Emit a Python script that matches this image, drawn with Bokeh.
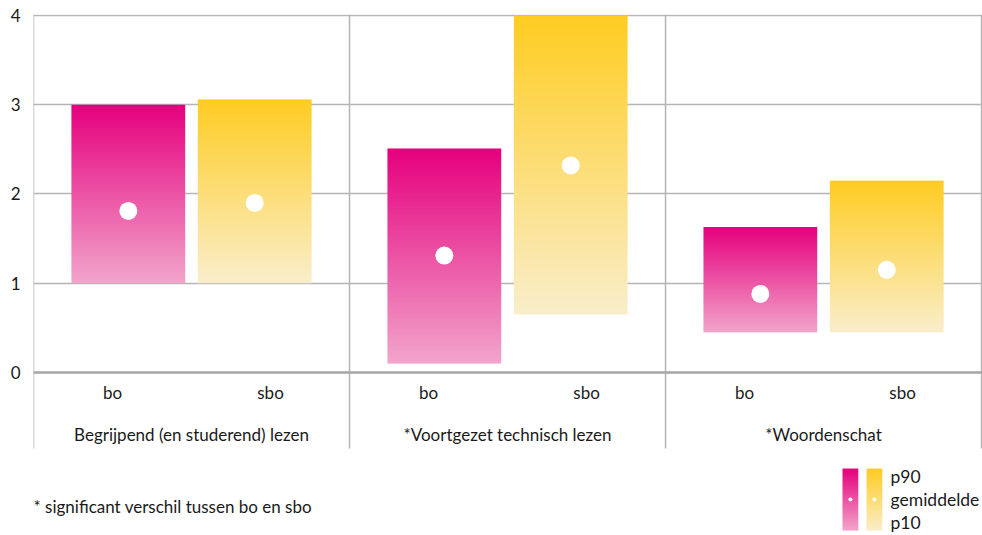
import numpy as np
from bokeh.plotting import figure
from bokeh.models import Span, Range1d
from bokeh.core.properties import value
from bokeh.embed import file_html
from bokeh.resources import INLINE

# ---------------- data ----------------
groups = ["Begrijpend (en studerend) lezen", "*Voortgezet technisch lezen", "*Woordenschat"]
schools = ["bo", "sbo"]
bo_p10 = [1.0, 0.10, 0.45]
bo_p90 = [3.0, 2.51, 1.63]
bo_mean = [1.81, 1.31, 0.88]
sbo_p10 = [1.0, 0.65, 0.45]
sbo_p90 = [3.06, 4.0, 2.15]
sbo_mean = [1.90, 2.32, 1.15]
y_ticks = [0, 1, 2, 3, 4]
footnote = "* significant verschil tussen bo en sbo"
legend_labels = ["p90", "gemiddelde", "p10"]

# ---------------- style ----------------
FONT = "Lato"
FS = "17px"
TXT = "#1a1a1a"
GRID = "#b5b5b5"
MAG_TOP, MAG_BOT = "#E5007D", "#F2A5CB"
YEL_TOP, YEL_BOT = "#FFCC22", "#F9EECB"
BAR_W = 0.36
OFFS = {"bo": -0.2, "sbo": 0.2}
LABEL_OFFS = {"bo": -0.25, "sbo": 0.25}


def hex_rgb(h):
    h = h.lstrip("#")
    return np.array([int(h[i:i + 2], 16) for i in (0, 2, 4)], dtype=float)


def gradient(top_hex, bot_hex, n=256, w=8):
    top, bot = hex_rgb(top_hex), hex_rgb(bot_hex)
    t = np.linspace(0, 1, n)[:, None]
    rgb = bot + (top - bot) * t  # row 0 = bottom
    img = np.zeros((n, w), dtype=np.uint32)
    view = img.view(dtype=np.uint8).reshape((n, w, 4))
    for c in range(3):
        view[:, :, c] = np.round(rgb[:, c])[:, None].astype(np.uint8)
    view[:, :, 3] = 255
    return img


mag_img = gradient(MAG_TOP, MAG_BOT)
yel_img = gradient(YEL_TOP, YEL_BOT)

p = figure(width=982, height=535, output_backend="svg", toolbar_location=None,
           x_axis_location=None, x_range=Range1d(0, 3.003), y_range=Range1d(-1.826, 4.011),
           min_border_left=33, min_border_right=0, min_border_top=14, min_border_bottom=0)
p.outline_line_color = None
p.background_fill_color = "white"
p.border_fill_color = "white"

# y axis
p.yaxis.ticker = y_ticks
p.yaxis.axis_line_color = None
p.yaxis.major_tick_line_color = None
p.yaxis.minor_tick_line_color = None
p.yaxis.major_tick_out = 0
p.yaxis.major_tick_in = 0
p.yaxis.major_label_standoff = 13
p.yaxis.major_label_text_font = FONT
p.yaxis.major_label_text_font_size = FS
p.yaxis.major_label_text_color = TXT
p.ygrid.grid_line_color = GRID
p.ygrid.grid_line_width = 1.5
p.xgrid.visible = False

# group separators
n = len(groups)
bounds = list(range(n + 1))
p.segment(x0=bounds, x1=bounds, y0=[-0.85] * len(bounds), y1=[4.011] * len(bounds),
          line_color=GRID, line_width=1.5)
p.add_layout(Span(location=0, dimension="width", line_color="#a8a8a8", line_width=2.5))

# bars
series = [("bo", bo_p10, bo_p90, bo_mean, mag_img), ("sbo", sbo_p10, sbo_p90, sbo_mean, yel_img)]
for name, lo, hi, mean, img in series:
    centers = [i + 0.5 + OFFS[name] for i in range(n)]
    p.image_rgba(image=[img] * n, x=[c - BAR_W / 2 for c in centers], y=lo,
                 dw=[BAR_W] * n, dh=[h - l for h, l in zip(hi, lo)])
    p.scatter(x=centers, y=mean, size=18, fill_color="white", line_color=None)
    p.text(x=[i + 0.5 + LABEL_OFFS[name] for i in range(n)], y=[-0.225] * n,
           text=[name] * n, text_align="center", text_baseline="middle",
           text_font=value(FONT), text_font_size=FS, text_color=TXT)

# group labels
p.text(x=[i + 0.5 for i in range(n)], y=[-0.70] * n, text=groups, text_align="center",
       text_baseline="middle", text_font=value(FONT), text_font_size=FS, text_color=TXT)

# footnote
p.text(x=[0.0], y=[-1.50], text=[footnote], text_align="left", text_baseline="middle",
       text_font=value(FONT), text_font_size=FS, text_color=TXT)

# legend
LEG_TOP, LEG_BOT = -1.076, -1.771
leg_x = [2.560, 2.636]
leg_w = 0.050
p.image_rgba(image=[mag_img, yel_img], x=leg_x, y=[LEG_BOT] * 2, dw=[leg_w] * 2,
             dh=[LEG_TOP - LEG_BOT] * 2)
p.scatter(x=[x + leg_w / 2 for x in leg_x], y=[-1.423] * 2, size=4,
          fill_color="white", line_color=None)
p.text(x=[2.712] * 3, y=[-1.165, -1.423, -1.681], text=legend_labels, text_align="left",
       text_baseline="middle", text_font=value(FONT), text_font_size="17.5px", text_color=TXT)

open("out.html", "w").write(file_html(p, INLINE))
